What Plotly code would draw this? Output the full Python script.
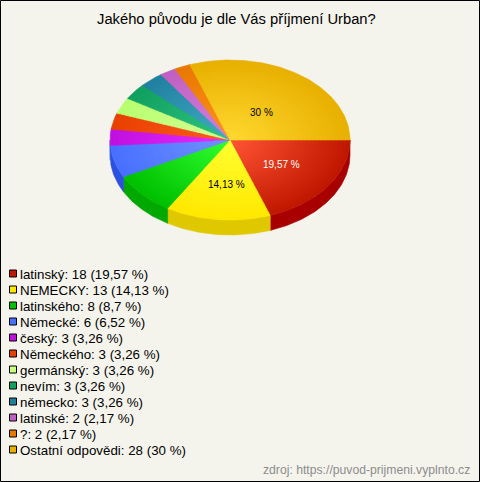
import math
import plotly.graph_objects as go

categories = ["latinský", "NEMECKY", "latinského", "Německé", "český", "Německého",
              "germánský", "nevím", "německo", "latinské", "?", "Ostatní odpovědi"]
values = [18, 13, 8, 6, 3, 3, 3, 3, 3, 2, 2, 28]
percent_labels = ["19,57", "14,13", "8,7", "6,52", "3,26", "3,26", "3,26", "3,26", "3,26", "2,17", "2,17", "30"]
inner_colors = [(255, 84, 52), (255, 255, 48), (48, 255, 48), (112, 146, 255), (232, 44, 255), (255, 92, 32),
                (212, 255, 148), (48, 196, 128), (68, 172, 196), (212, 128, 224), (255, 146, 32), (255, 216, 48)]
outer_colors = [(192, 24, 0), (255, 232, 0), (0, 192, 0), (72, 112, 255), (192, 16, 224), (232, 64, 0),
                (184, 255, 112), (16, 160, 96), (32, 128, 160), (192, 96, 192), (232, 120, 0), (232, 176, 0)]
side_colors = ["#a80000", "#e0c800", "#00a800", "#2c50e0", "#2c50e0", "#a83000",
               "#90c860", "#087848", "#106078", "#904890", "#a85800", "#a88000"]
legend_colors = ["#c01800", "#ffe800", "#00c000", "#4870ff", "#c010e0", "#e84000",
                 "#c8ff80", "#10a060", "#208098", "#c060c0", "#e87800", "#e8b000"]
pie_labels = {0: ("19,57 %", "white"), 1: ("14,13 %", "black"), 11: ("30 %", "black")}
title = "Jakého původu je dle Vás příjmení Urban?"
source = "zdroj: https://puvod-prijmeni.vyplnto.cz"

W, H = 480, 482
CX, CY, RX, RY, DEPTH = 230, 140, 120, 80, 15
BG = "#f5f4ec"
FONT = "Liberation Sans, Arial, sans-serif"
RINGS = 30
total = sum(values)
fig = go.Figure()


def ell(t, f=1.0, dy=0):
    return CX + RX * f * math.cos(t), CY + dy + RY * f * math.sin(t)


def add_poly(pts, color):
    fig.add_trace(go.Scatter(x=[p[0] for p in pts] + [pts[0][0]], y=[p[1] for p in pts] + [pts[0][1]],
                             mode="lines", fill="toself", fillcolor=color, line=dict(width=0.6, color=color),
                             hoverinfo="skip", showlegend=False))


angles = []
a = 0.0
for v in values:
    b = a + v / total * 2 * math.pi
    angles.append((a, b))
    a = b

# side wall of the front half
for (a, b), col in zip(angles, side_colors):
    lo, hi = max(a, 0.0), min(b, math.pi)
    if hi <= lo:
        continue
    n = max(3, int((hi - lo) * 60))
    ts = [lo + (hi - lo) * i / n for i in range(n + 1)]
    add_poly([ell(t) for t in ts] + [ell(t, dy=DEPTH) for t in reversed(ts)], col)

# top with radial shading
for k in range(RINGS):
    f = 1 - k / RINGS
    mix = k / (RINGS - 1)
    for (a, b), ci, co in zip(angles, inner_colors, outer_colors):
        c = tuple(round(co[j] + (ci[j] - co[j]) * mix) for j in range(3))
        col = "rgb(%d,%d,%d)" % c
        n = max(3, int((b - a) * 60 * f))
        add_poly([(CX, CY)] + [ell(a + (b - a) * i / n, f) for i in range(n + 1)], col)

anns = [dict(x=236.5, y=19, text=title, showarrow=False, font=dict(size=14.75, color="black", family=FONT))]
LABEL_R = {0: 0.53, 1: 0.56, 11: 0.42}
LABEL_DX = {0: 0, 1: 3, 11: 2}
for i, (txt, col) in pie_labels.items():
    m = sum(angles[i]) / 2
    x, y = ell(m, LABEL_R[i])
    anns.append(dict(x=x + LABEL_DX[i], y=y, text=txt, showarrow=False,
                     font=dict(size=10, color=col, family=FONT)))

shapes = [dict(type="rect", x0=0.5, y0=0.5, x1=W - 0.5, y1=H - 0.5, line=dict(color="black", width=1), layer="above")]
for i, (c, v, p, col) in enumerate(zip(categories, values, percent_labels, legend_colors)):
    y = 274 + i * 16
    shapes.append(dict(type="rect", x0=9.5, x1=16.5, y0=y - 4, y1=y + 3, fillcolor=col,
                       line=dict(color="black", width=1), layer="above"))
    anns.append(dict(x=17.5, y=y + 0.5, xanchor="left", text=f"{c}: {v} ({p} %)", showarrow=False,
                     font=dict(size=13.33, color="black", family=FONT)))
anns.append(dict(x=472, y=470, xanchor="right", text=source, showarrow=False,
                 font=dict(size=12.2, color="#8c8c8c", family=FONT)))

fig.update_layout(width=W, height=H, margin=dict(l=0, r=0, t=0, b=0), autosize=False,
                  paper_bgcolor=BG, plot_bgcolor=BG, annotations=anns, shapes=shapes,
                  xaxis=dict(range=[0, W], visible=False, fixedrange=True),
                  yaxis=dict(range=[H, 0], visible=False, fixedrange=True), showlegend=False)
fig.write_html("out.html", config={"displayModeBar": False},
               post_script="document.body.style.margin='0';document.body.style.background='%s';" % BG)
